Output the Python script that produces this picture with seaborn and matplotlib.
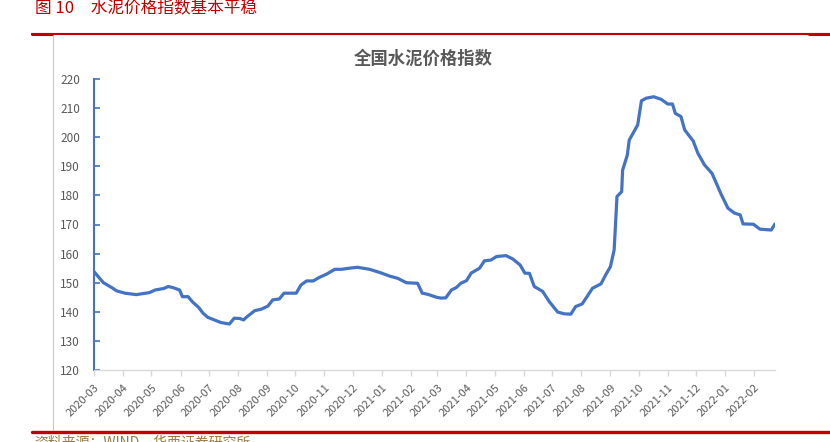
import matplotlib
matplotlib.use("Agg")
import pandas as pd
import matplotlib.pyplot as plt
import matplotlib.dates as mdates
import seaborn as sns

# 全国水泥价格指数
dates = [
    "2020-03-01", "2020-03-11", "2020-03-20", "2020-03-25", "2020-04-03", "2020-04-15",
    "2020-04-29", "2020-05-05", "2020-05-14", "2020-05-19", "2020-05-24", "2020-05-31",
    "2020-06-03", "2020-06-09", "2020-06-14", "2020-06-20", "2020-06-25", "2020-06-30",
    "2020-07-07", "2020-07-14", "2020-07-23", "2020-07-28", "2020-08-03", "2020-08-07",
    "2020-08-11", "2020-08-19", "2020-08-26", "2020-09-02", "2020-09-07", "2020-09-14",
    "2020-09-19", "2020-10-02", "2020-10-07", "2020-10-13", "2020-10-20", "2020-10-27",
    "2020-11-03", "2020-11-12", "2020-11-19", "2020-11-28", "2020-12-06", "2020-12-19",
    "2020-12-30", "2021-01-09", "2021-01-18", "2021-01-27", "2021-02-08", "2021-02-13",
    "2021-02-19", "2021-02-28", "2021-03-05", "2021-03-10", "2021-03-16", "2021-03-21",
    "2021-03-26", "2021-04-01", "2021-04-06", "2021-04-15", "2021-04-20", "2021-04-27",
    "2021-05-03", "2021-05-13", "2021-05-20", "2021-05-28", "2021-06-02", "2021-06-07",
    "2021-06-12", "2021-06-21", "2021-06-28", "2021-07-07", "2021-07-14", "2021-07-21",
    "2021-07-26", "2021-08-02", "2021-08-13", "2021-08-22", "2021-08-27", "2021-09-01",
    "2021-09-05", "2021-09-08", "2021-09-13", "2021-09-14", "2021-09-19", "2021-09-21",
    "2021-09-30", "2021-10-04", "2021-10-09", "2021-10-17", "2021-10-25", "2021-11-01",
    "2021-11-06", "2021-11-09", "2021-11-15", "2021-11-19", "2021-11-28", "2021-12-03",
    "2021-12-10", "2021-12-18", "2021-12-28", "2022-01-04", "2022-01-11", "2022-01-17",
    "2022-01-20", "2022-01-31", "2022-02-07", "2022-02-19", "2022-02-23",
]
values = [
    153.8, 150.0, 148.3, 147.2, 146.4, 145.9,
    146.6, 147.5, 148.0, 148.7, 148.3, 147.5,
    145.2, 145.2, 143.3, 141.6, 139.5, 138.1,
    137.2, 136.3, 135.8, 137.8, 137.7, 137.2,
    138.4, 140.4, 140.9, 142.0, 144.1, 144.4,
    146.4, 146.4, 149.2, 150.6, 150.6, 151.9,
    152.9, 154.6, 154.6, 155.0, 155.3, 154.6,
    153.5, 152.3, 151.5, 150.0, 149.8, 146.4,
    146.0, 145.0, 144.7, 144.8, 147.5, 148.3,
    149.8, 150.7, 153.3, 155.0, 157.5, 157.8,
    159.0, 159.3, 158.2, 156.1, 153.3, 153.2,
    148.7, 147.0, 143.5, 139.9, 139.3, 139.2,
    141.8, 142.7, 148.1, 149.6, 152.7, 155.5,
    161.3, 179.6, 181.3, 188.7, 193.9, 199.0,
    204.2, 212.5, 213.4, 213.9, 213.0, 211.4,
    211.4, 208.2, 207.1, 202.5, 198.7, 194.5,
    190.5, 187.6, 180.2, 175.6, 173.9, 173.3,
    170.2, 170.1, 168.4, 168.1, 170.2,
]
y_ticks = [120, 130, 140, 150, 160, 170, 180, 190, 200, 210, 220]

fig_title = "图 10\u3000水泥价格指数基本平稳"
chart_title = "全国水泥价格指数"
source_text = "资料来源：WIND，华西证券研究所"

df = pd.DataFrame({"date": pd.to_datetime(dates), "index": values})

sns.set_style("white")
plt.rcParams['font.family'] = ['Noto Sans CJK SC', 'DejaVu Sans']

RED = "#c00000"
BLUE = "#4472c4"
GRAY = "#595959"

fig = plt.figure(figsize=(8.3, 4.42), dpi=100)
ax = fig.add_axes([94 / 830, 1 - 370 / 442, (775 - 94) / 830, (370 - 79) / 442])

sns.lineplot(data=df, x="date", y="index", ax=ax, color=BLUE, linewidth=2.3)

ax.set_ylim(120, 220)
ax.set_yticks(y_ticks)
ax.set_xlim(pd.Timestamp("2020-03-01"), pd.Timestamp("2022-02-23"))
month_ticks = pd.date_range("2020-03-01", "2022-02-01", freq="MS")
ax.set_xticks(month_ticks)
ax.xaxis.set_major_formatter(mdates.DateFormatter("%Y-%m"))
ax.set_xlabel("")
ax.set_ylabel("")

for s in ["top", "right"]:
    ax.spines[s].set_visible(False)
ax.spines["left"].set_color(BLUE)
ax.spines["left"].set_linewidth(1.5)
ax.spines["bottom"].set_color("#d9d9d9")
ax.spines["bottom"].set_linewidth(1.0)

ax.tick_params(axis="y", direction="in", length=4, width=1.2, color=BLUE,
               labelsize=8.5, labelcolor=GRAY, pad=10, left=True)
ax.tick_params(axis="x", direction="out", length=4, width=1.0, color="#d9d9d9",
               labelsize=8, labelcolor=GRAY, pad=5, bottom=True)
for lab in ax.get_xticklabels():
    lab.set_rotation(45)
    lab.set_ha("right")
    lab.set_va("top")
    lab.set_rotation_mode("anchor")

# chart title
fig.text(423 / 830, 1 - 59 / 442, chart_title, ha="center", va="center",
         fontsize=12.5, fontweight="bold", color=GRAY)

# report frame: caption, red rules, grey side line, source
fig.text(35 / 830, 1 - 9 / 442, fig_title, ha="left", va="center",
         fontsize=12, color=RED)
fig.add_artist(plt.Line2D([32 / 830, 1.0], [1 - 34 / 442] * 2, color=RED,
                          linewidth=1.5, transform=fig.transFigure))
fig.add_artist(plt.Line2D([32 / 830, 52 / 830], [1 - 34.3 / 442] * 2, color=RED,
                          linewidth=2.2, transform=fig.transFigure))
fig.add_artist(plt.Line2D([809 / 830, 1.0], [1 - 34.3 / 442] * 2, color=RED,
                          linewidth=2.2, transform=fig.transFigure))
fig.add_artist(plt.Line2D([32 / 830, 1.0], [1 - 431.5 / 442] * 2, color=RED,
                          linewidth=2.4, transform=fig.transFigure))
fig.add_artist(plt.Line2D([52.5 / 830] * 2, [1 - 36 / 442, 1 - 430 / 442],
                          color="#c8c8c8", linewidth=0.8, transform=fig.transFigure))
fig.text(34 / 830, 1 - 435 / 442, source_text, ha="left", va="top",
         fontsize=10, color="#a07a3c")

fig.savefig("out.png", dpi=100)
